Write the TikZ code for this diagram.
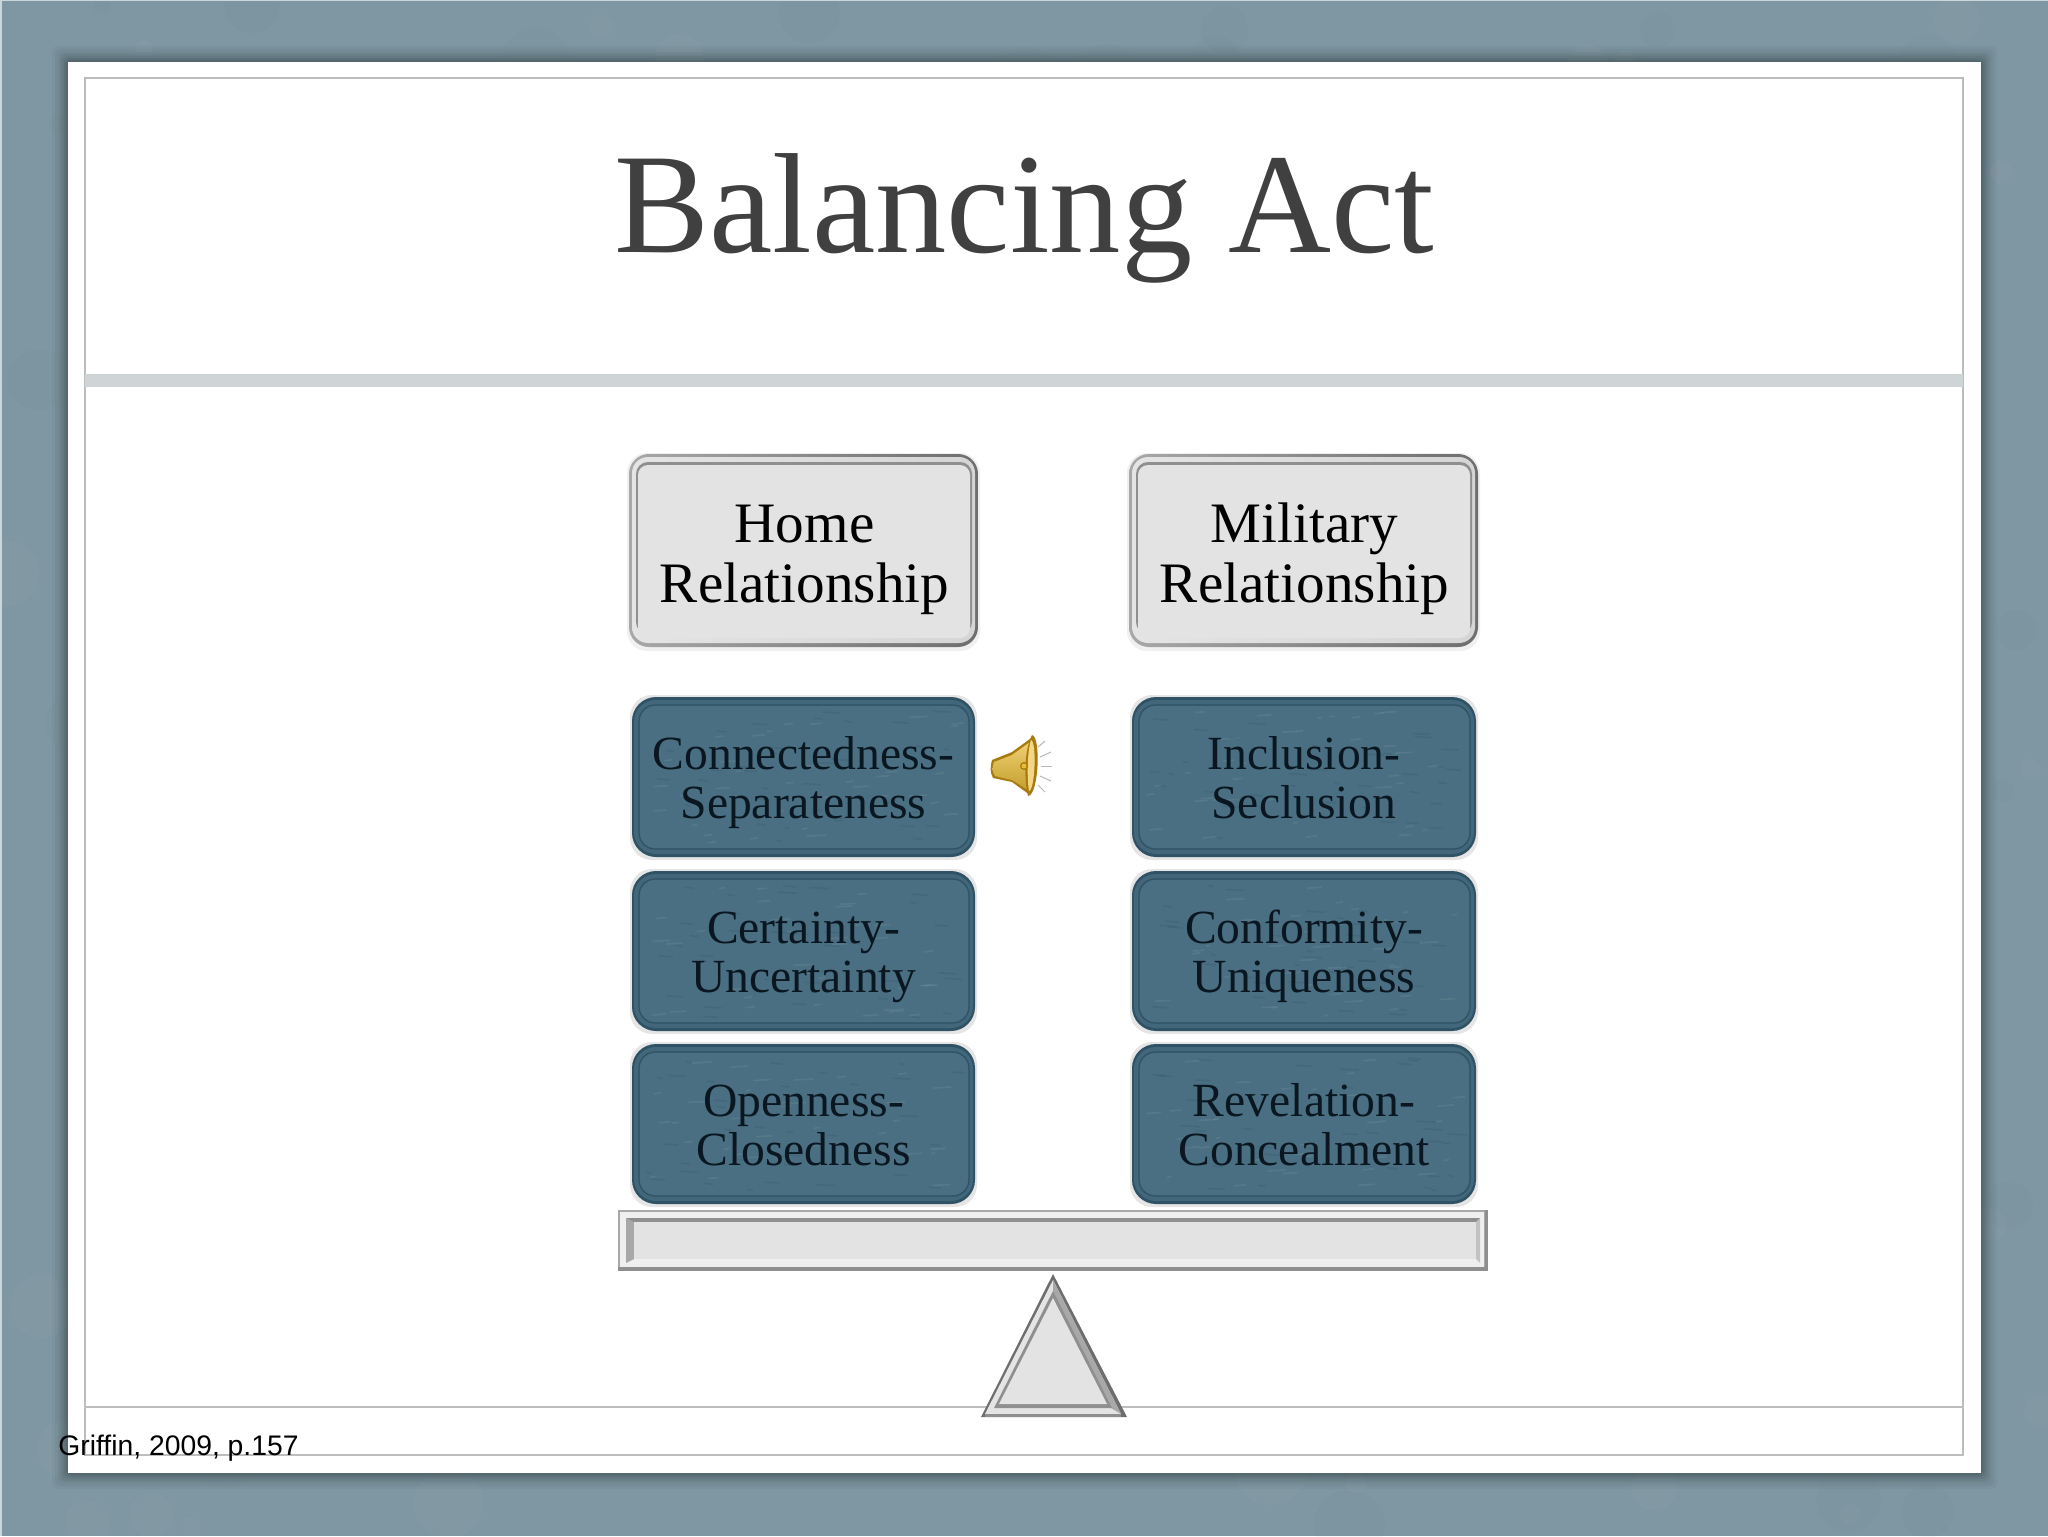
\documentclass[tikz,border=0pt]{standalone}
\usepackage{fontspec}
\setmainfont{Liberation Serif}
\setsansfont{Liberation Sans}
\usetikzlibrary{calc}
\definecolor{bgc}{HTML}{7F97A2}
\definecolor{bgdark}{HTML}{4F626B}
\definecolor{rulec}{HTML}{BDBDBD}
\definecolor{rulethick}{HTML}{CFD4D7}
\definecolor{titlec}{HTML}{404040}
\definecolor{facegray}{HTML}{E3E3E4}
\definecolor{tealface}{HTML}{4A6F82}
\definecolor{tealedge}{HTML}{2F5364}
\definecolor{tealrim}{HTML}{42677A}
\definecolor{textdark}{HTML}{0A1620}
\definecolor{gold}{HTML}{E8BC36}
\definecolor{golddark}{HTML}{A87A10}
\definecolor{rimlight}{HTML}{E4E4E4}
\definecolor{rimline}{HTML}{8F8F8F}
\definecolor{rimmid}{HTML}{A8A8A8}
\definecolor{rimdark}{HTML}{6E6E6E}
\tikzset{
  titletext/.style={font=\fontsize{71.3}{71.3}\selectfont, text=titlec, inner sep=0pt},
  headtext/.style={font=\fontsize{28.6}{30}\selectfont, text=black, align=center, inner sep=0pt},
  bartext/.style={font=\fontsize{23.8}{24.5}\selectfont, text=textdark, align=center, inner sep=0pt},
  citetext/.style={font=\sffamily\fontsize{14.15}{14.15}\selectfont, text=black, inner sep=0pt, anchor=west},
  thinrule/.style={draw=rulec, line width=1.4pt},
}
% #1 name #2 x1 #3 y1 #4 x2 #5 y2 #6 first line #7 second line
\newcommand{\graybox}[7]{
  \fill[black,opacity=.06,rounded corners=10pt] (#2-2,#3-1) rectangle (#4+2,#5+4);
  \path[rounded corners=10pt,left color=rimmid,right color=rimdark] (#2,#3) rectangle (#4,#5);
  \path[rounded corners=8pt,left color=rimlight,right color=rimlight!85!gray] (#2+3,#3+3) rectangle (#4-3,#5-4);
  \fill[rounded corners=6pt,rimline] (#2+7,#3+8) rectangle (#4-6,#5-13);
  \fill[rounded corners=5pt,facegray] (#2+9,#3+11) rectangle (#4-8,#5-9);
  \node[headtext] (#1) at ({(#2+#4)/2+1},{(#3+#5)/2+10}) {\strut #6\\\strut #7};
}
\newcommand{\tealbox}[7]{
  \fill[black,opacity=.10,rounded corners=11pt] (#2-2,#3-2) rectangle (#4+2,#5+3);
  \fill[rounded corners=12pt,tealedge] (#2,#3) rectangle (#4,#5);
  \fill[rounded corners=11pt,tealrim] (#2+2,#3+3) rectangle (#4-2,#5-3);
  \draw[rounded corners=8pt,tealedge,line width=.6pt] (#2+7,#3+8) rectangle (#4-6,#5-8);
  \fill[rounded corners=8pt,tealface] (#2+8,#3+9) rectangle (#4-7,#5-9);
  \foreach \n in {1,...,70}{
    \pgfmathsetmacro{\rx}{#2+14+rnd*(#4-#2-36)}
    \pgfmathsetmacro{\ry}{#3+14+rnd*(#5-#3-28)}
    \pgfmathsetmacro{\rl}{4+rnd*16}
    \ifodd\n
      \draw[white,opacity=.07,line width=.8pt] (\rx,\ry) -- ++(\rl,-1);
    \else
      \draw[tealedge,opacity=.22,line width=.8pt] (\rx,\ry) -- ++(\rl,1);
    \fi
  }
  \node[bartext] (#1) at ({(#2+#4)/2},{(#3+#5)/2+7}) {\strut #6\\\strut #7};
}
\begin{document}
\begin{tikzpicture}[x=0.5pt,y=-0.5pt]
\useasboundingbox (0,0) rectangle (2048,1536);
\pgfmathsetseed{1234}
% backdrop
\fill[bgc] (0,0) rectangle (2048,1536);
\foreach \n in {1,...,260}{
  \pgfmathsetmacro{\rx}{rnd*2048}
  \pgfmathsetmacro{\ry}{rnd*1536}
  \pgfmathsetmacro{\rr}{8+rnd*30}
  \ifodd\n
    \fill[white,opacity=.025] (\rx,\ry) circle[radius=\rr];
  \else
    \fill[bgdark,opacity=.035] (\rx,\ry) circle[radius=\rr];
  \fi
}
\draw[white!60!bgc,line width=1pt] (0.5,1535.5) -- (0.5,0.5) -- (2047.5,0.5);
% panel shadow
\foreach \d/\o in {16/.05,13/.06,10/.07,8/.08,6/.10,4/.12,2/.14}{
  \fill[bgdark!60!black,opacity=\o,rounded corners=3pt] (68-\d,62-\d) rectangle (1981+\d,1473+\d);
}
% panel
\fill[white] (68,62) rectangle (1981,1473);
\draw[thinrule] (85,78) rectangle (1963,1455);
\fill[rulethick] (85,374) rectangle (1963,387);
\draw[thinrule] (85,1407) -- (1963,1407);
% title
\node[titletext] (title) at (1024,218) {Balancing Act};
% columns
\graybox{home}{629}{454}{978}{647}{Home}{Relationship}
\graybox{military}{1129}{454}{1478}{647}{Military}{Relationship}
\tealbox{conn}{632}{697}{975}{857}{Connectedness-}{Separateness}
\tealbox{cert}{632}{871}{975}{1031}{Certainty-}{Uncertainty}
\tealbox{open}{632}{1044}{975}{1204}{Openness-}{Closedness}
\tealbox{incl}{1132}{697}{1476}{857}{Inclusion-}{Seclusion}
\tealbox{conf}{1132}{871}{1476}{1031}{Conformity-}{Uniqueness}
\tealbox{reve}{1132}{1044}{1476}{1204}{Revelation-}{Concealment}
% beam
\fill[rimmid] (618,1210) rectangle (1488,1271);
\fill[rimlight!60!white] (620,1212) rectangle (1484,1267);
\fill[rimline] (626,1218) rectangle (1480,1222);
\fill[rimmid] (626,1218) -- (634,1222) -- (634,1259) -- (626,1263) -- cycle;
\fill[rimmid!70!white] (1480,1218) -- (1476,1222) -- (1476,1259) -- (1480,1263) -- cycle;
\fill[facegray] (634,1222) rectangle (1476,1259);
\fill[rimline] (618,1267) rectangle (1488,1271);
\fill[rimline] (1485,1210) rectangle (1488,1271);
% fulcrum
\fill[rimdark] (1053,1274) -- (981,1417) -- (1127,1417) -- cycle;
\fill[rimlight] (1053,1280) -- (985,1414) -- (1121,1414) -- cycle;
\fill[rimmid] (1053,1280) -- (1121,1414) -- (1111,1408) -- (1053,1292) -- cycle;
\fill[rimline] (1053,1291) -- (994,1408) -- (1112,1408) -- cycle;
\fill[facegray] (1053,1298) -- (999,1404) -- (1107,1404) -- cycle;
\fill[rimline] (985,1414) rectangle (1121,1417);
% speaker
\fill[golddark] (992,760) .. controls (990,768) and (990,772) .. (993,778) -- (1012,782) -- (1030,795) -- (1034,736) -- (1012,752) -- cycle;
\path[top color=gold!70!white,bottom color=gold!85!black] (994,762) .. controls (992,768) and (992,771) .. (995,776) -- (1012,780) -- (1028,790) -- (1030,742) -- (1012,755) -- cycle;
\fill[golddark] (1032,735) .. controls (1041,736) and (1039,795) .. (1028,796) .. controls (1024,780) and (1024,750) .. (1032,735) -- cycle;
\fill[gold!60!white] (1031,740) .. controls (1037,742) and (1035,790) .. (1029,791) .. controls (1027,780) and (1027,752) .. (1031,740) -- cycle;
\fill[golddark] (1024,766) circle[radius=4];
\fill[gold] (1024,766) circle[radius=2.5];
\foreach \a/\b/\c/\d in {1038/747/1045/741,1040/757/1051/752,1041/766/1052/766,1040/776/1051/781,1038/785/1045/792}{
  \draw[gray!55!white,line width=.5pt] (\a,\b) -- (\c,\d);
}
% citation
\node[citetext] (cite) at (58,1448) {Griffin, 2009, p.157};
\end{tikzpicture}
\end{document}
